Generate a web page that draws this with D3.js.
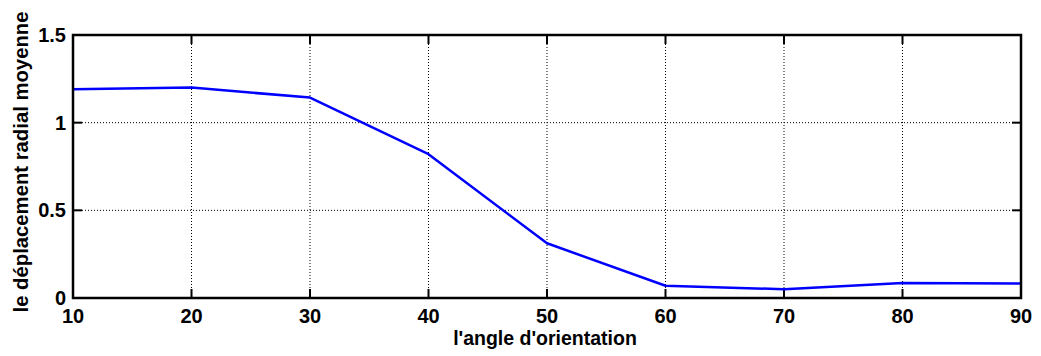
<!DOCTYPE html>
<html>
<head>
<meta charset="utf-8">
<script src="https://cdn.jsdelivr.net/npm/d3@7"></script>
<style>
  body { margin: 0; background: #fff; }
  text { font-family: "Liberation Sans", Arial, sans-serif; font-weight: bold; }
</style>
</head>
<body>
<svg id="chart" width="1041" height="356"></svg>
<script>
// data
var angles = [10, 20, 30, 40, 50, 60, 70, 80, 90];
var deplacement = [1.19, 1.20, 1.143, 0.82, 0.312, 0.07, 0.05, 0.085, 0.082];
var xTicks = [10, 20, 30, 40, 50, 60, 70, 80, 90];
var yTicks = [0, 0.5, 1, 1.5];

var svg = d3.select("#chart");
var pLeft = 73, pRight = 1021, pTop = 35, pBottom = 298;

var x = d3.scaleLinear().domain([10, 90]).range([pLeft, pRight]);
var y = d3.scaleLinear().domain([0, 1.5]).range([pBottom, pTop]);

// grid
svg.selectAll(".vgrid").data(xTicks.slice(1, -1)).enter().append("line")
    .attr("x1", function (d) { return x(d); }).attr("x2", function (d) { return x(d); })
    .attr("y1", pTop).attr("y2", pBottom)
    .attr("stroke", "#000").attr("stroke-width", 1).attr("stroke-dasharray", "1,2");
svg.selectAll(".hgrid").data(yTicks.slice(1, -1)).enter().append("line")
    .attr("y1", function (d) { return y(d); }).attr("y2", function (d) { return y(d); })
    .attr("x1", pLeft).attr("x2", pRight)
    .attr("stroke", "#000").attr("stroke-width", 1).attr("stroke-dasharray", "1,2");

// inward ticks on all four sides
var tl = 9;
var tickG = svg.append("g").attr("stroke", "#000").attr("stroke-width", 2);
xTicks.forEach(function (d) {
    tickG.append("line").attr("x1", x(d)).attr("x2", x(d)).attr("y1", pBottom).attr("y2", pBottom - tl);
    tickG.append("line").attr("x1", x(d)).attr("x2", x(d)).attr("y1", pTop).attr("y2", pTop + tl);
});
yTicks.forEach(function (d) {
    tickG.append("line").attr("x1", pLeft).attr("x2", pLeft + tl).attr("y1", y(d)).attr("y2", y(d));
    tickG.append("line").attr("x1", pRight).attr("x2", pRight - tl).attr("y1", y(d)).attr("y2", y(d));
});

// line
var line = d3.line()
    .x(function (d, i) { return x(angles[i]); })
    .y(function (d) { return y(d); });
svg.append("path").datum(deplacement)
    .attr("d", line)
    .attr("fill", "none").attr("stroke", "#0000ff").attr("stroke-width", 2.5)
    .attr("stroke-linejoin", "round");

// box
svg.append("rect").attr("x", pLeft).attr("y", pTop)
    .attr("width", pRight - pLeft).attr("height", pBottom - pTop)
    .attr("fill", "none").attr("stroke", "#000").attr("stroke-width", 2.5);

// tick labels
svg.selectAll(".xl").data(xTicks).enter().append("text")
    .attr("x", function (d) { return x(d); }).attr("y", 323)
    .attr("text-anchor", "middle").attr("font-size", 20)
    .text(function (d) { return d; });
svg.selectAll(".yl").data(yTicks).enter().append("text")
    .attr("x", 66).attr("y", function (d) { return y(d) + 7; })
    .attr("text-anchor", "end").attr("font-size", 20)
    .text(function (d) { return d; });

// axis labels
svg.append("text").attr("x", 545).attr("y", 345)
    .attr("text-anchor", "middle").attr("font-size", 19.5)
    .text("l'angle d'orientation");
svg.append("text")
    .attr("transform", "translate(28,162) rotate(-90)")
    .attr("text-anchor", "middle").attr("font-size", 20.3)
    .text("le déplacement radial moyenne");
</script>
</body>
</html>
